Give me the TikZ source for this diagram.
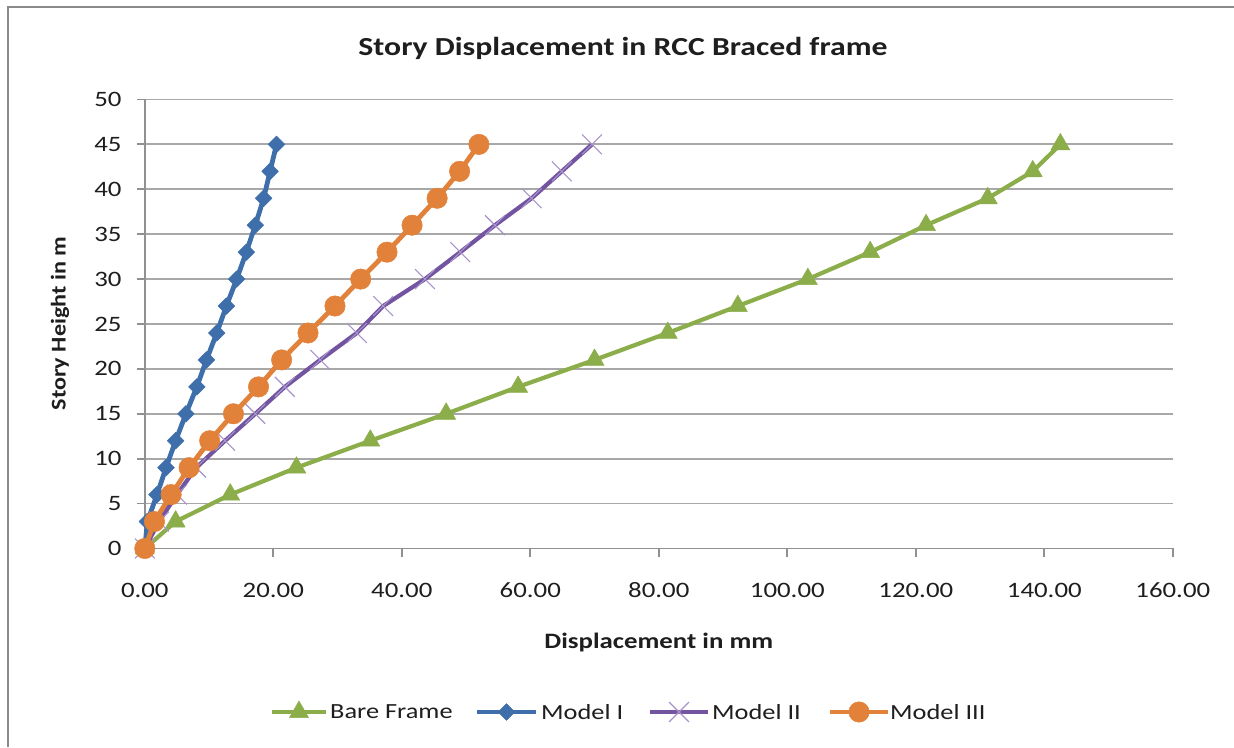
\documentclass[tikz,border=0pt]{standalone}
\usepackage{fontspec}
\setmainfont{Carlito}[FakeStretch=1.22]
\newfontfamily\verticalfont{Carlito}[FakeStretch=1.15]
\usetikzlibrary{plotmarks}

\definecolor{cgreen}{HTML}{8CAE4A}
\definecolor{cblue}{HTML}{3F6FAB}
\definecolor{cpurple}{HTML}{7254A0}
\definecolor{cxmark}{HTML}{A893CC}
\definecolor{corange}{HTML}{E2823A}
\definecolor{cgrid}{HTML}{A8A8A8}
\definecolor{caxis}{HTML}{909090}
\definecolor{cframe}{HTML}{8A8A8A}
\definecolor{ctext}{HTML}{1E1E1E}

\tikzset{
  gridline/.style={cgrid, line width=1.8pt},
  axisline/.style={caxis, line width=1.8pt},
  ticklabel/.style={font=\fontsize{22}{22}\selectfont, text=ctext, inner sep=0pt},
  axistitle/.style={font=\fontsize{22}{22}\selectfont\bfseries, text=ctext, inner sep=0pt},
  legendtext/.style={font=\fontsize{21.6}{22}\selectfont, text=ctext, inner sep=0pt, anchor=west},
  bareseries/.style={cgreen, line width=4.2pt, line join=round, mark=triangle*, mark size=11pt,
    mark options={fill=cgreen, draw=cgreen, line width=0.5pt}},
  modelone/.style={cblue, line width=4.8pt, line join=round, mark=square*, mark size=5.9pt,
    mark options={rotate=45, fill=cblue, draw=cblue, line width=0.5pt}},
  modeltwo/.style={cpurple, line width=4.2pt, line join=round, mark=x, mark size=14pt,
    mark options={draw=cxmark, line width=1.1pt}},
  modelthree/.style={corange, line width=4.8pt, line join=round, mark=*, mark size=10.2pt,
    mark options={fill=corange, draw=corange, line width=0.5pt}}
}

\begin{document}
\begin{tikzpicture}[x=1pt,y=1pt]
\useasboundingbox (0,0) rectangle (1234,747);
\fill[white] (0,0) rectangle (1234,747);

% outer frame of the chart area (top and left edges)
\draw[cframe, line width=2pt] (8,0) -- (8,740) -- (1234,740);

% title
\node[font=\fontsize{26}{26}\selectfont\bfseries, text=ctext, inner sep=0pt] (title) at (623,699) {Story Displacement in RCC Braced frame};

% plotting area: origin at displacement 0, height 0
\begin{scope}[shift={(144.8,198.5)}, x=6.425pt, y=8.98pt]
  % horizontal grid lines and y ticks
  \foreach \h in {5,10,...,50} {
    \draw[gridline] (0,\h) -- (160,\h);
  }
  \foreach \h in {0,5,...,50} {
    \draw[axisline] (-1.2,\h) -- (0,\h);
    \node[ticklabel, anchor=east] (ylab\h) at (-3.6,\h) {\h};
  }
  % axes
  \draw[axisline] (0,50) -- (0,0) -- (160,0);
  \foreach \d/\t in {0/0.00,20/20.00,40/40.00,60/60.00,80/80.00,100/100.00,120/120.00,140/140.00,160/160.00} {
    \draw[axisline] (\d,0) -- (\d,-0.9);
    \node[ticklabel] (xlab\d) at (\d,-4.65) {\t};
  }

  % series
  \draw[bareseries] plot coordinates {(0,0) (4.8,3) (13.3,6) (23.6,9) (35.1,12) (46.9,15) (58.1,18) (70.0,21) (81.4,24) (92.3,27) (103.2,30) (112.9,33) (121.6,36) (131.2,39) (138.2,42) (142.5,45)};
  \draw[modelone] plot coordinates {(0,0) (0.4,3) (1.9,6) (3.3,9) (4.8,12) (6.4,15) (8.1,18) (9.6,21) (11.2,24) (12.7,27) (14.3,30) (15.8,33) (17.2,36) (18.5,39) (19.5,42) (20.5,45)};
  \draw[modeltwo] plot coordinates {(0,0) (2.2,3) (5.0,6) (8.0,9) (12.5,12) (17.2,15) (21.8,18) (27.3,21) (33.0,24) (37.1,27) (43.6,30) (49.1,33) (54.5,36) (60.2,39) (64.9,42) (69.6,45)};
  \draw[modelthree] plot coordinates {(0,0) (1.5,3) (4.1,6) (6.9,9) (10.1,12) (13.8,15) (17.7,18) (21.3,21) (25.4,24) (29.6,27) (33.6,30) (37.7,33) (41.6,36) (45.5,39) (49.0,42) (52.0,45)};

  % axis titles
  \node[axistitle] (xtitle) at (80,-10.5) {Displacement in mm};
\end{scope}

\node[font=\fontsize{21}{21}\verticalfont\bfseries, text=ctext, inner sep=0pt, rotate=90] (ytitle) at (60,423.5) {Story Height in m};

% legend
\draw[bareseries, mark indices={2}] plot coordinates {(272,35) (299,35) (326,35)};
\node[legendtext] (lbare) at (330,35) {Bare Frame};
\draw[modelone, mark indices={2}] plot coordinates {(477,35) (506.5,35) (536,35)};
\node[legendtext] (lone) at (541,35) {Model I};
\draw[modeltwo, mark indices={2}] plot coordinates {(650,35) (679,35) (708,35)};
\node[legendtext] (ltwo) at (712,35) {Model II};
\draw[modelthree, mark indices={2}] plot coordinates {(830,35) (859,35) (888,35)};
\node[legendtext] (lthree) at (890,35) {Model III};
\end{tikzpicture}
\end{document}
